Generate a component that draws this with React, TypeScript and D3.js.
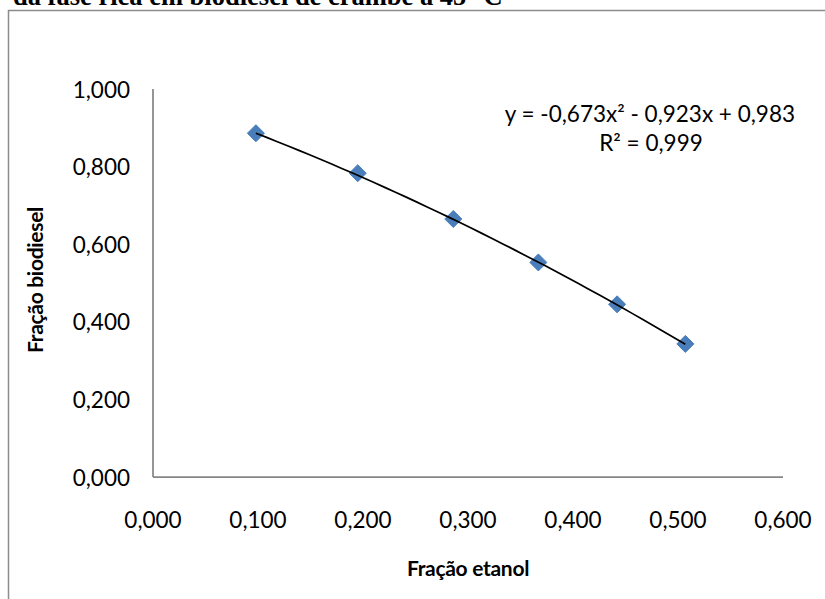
import React from "react";
import * as d3 from "d3";

// Ethanol fraction vs. biodiesel fraction in the biodiesel-rich phase
const etanol = [0.098, 0.195, 0.286, 0.367, 0.442, 0.507];
const biodiesel = [0.886, 0.783, 0.665, 0.553, 0.445, 0.343];

// Quadratic trendline coefficients: y = a·x² + b·x + c
const trendCoef = [-0.673, -0.923, 0.983];
const trendLabel = "y = -0,673x² - 0,923x + 0,983";
const r2Label = "R² = 0,999";

const xTicks = [0, 0.1, 0.2, 0.3, 0.4, 0.5, 0.6];
const yTicks = [0, 0.2, 0.4, 0.6, 0.8, 1.0];

const titleText = "da fase rica em biodiesel de crambe a 45 °C";
const xTitle = "Fração etanol";
const yTitle = "Fração biodiesel";

const W = 825;
const H = 599;
const plot = { left: 153, right: 783, top: 89, bottom: 477 };
const font = "Lato, 'Open Sans', sans-serif";

const fmt = (v: number) => d3.format(".3f")(v).replace(".", ",");

export default function App() {
  const x = d3.scaleLinear().domain([0, 0.6]).range([plot.left, plot.right]);
  const y = d3.scaleLinear().domain([0, 1]).range([plot.bottom, plot.top]);

  const [a, b, c] = trendCoef;
  const x0 = d3.min(etanol)!;
  const x1 = d3.max(etanol)!;
  const trendX = d3.range(0, 41).map((i) => x0 + ((x1 - x0) * i) / 40);
  const line = d3
    .line<number>()
    .x((v) => x(v))
    .y((v) => y(a * v * v + b * v + c));

  const diamond = d3.symbol().type(d3.symbolDiamond2).size(185)();

  return (
    <div style={{ position: "absolute", left: 0, top: 0 }}>
      <svg width={W} height={H} style={{ display: "block", background: "#fff" }}>
        {/* caption fragment above the chart frame */}
        <text
          x={13}
          y={5}
          fontFamily="'Liberation Serif', 'Times New Roman', serif"
          fontWeight="bold"
          fontSize={26.5}
          fill="#000"
        >
          {titleText}
        </text>

        {/* chart frame */}
        <rect x={8.5} y={10.5} width={W + 20} height={H + 20} fill="#fff" stroke="#8c8c8c" strokeWidth={1.5} />

        {/* axes */}
        <line x1={plot.left} x2={plot.left} y1={plot.top} y2={plot.bottom} stroke="#868686" strokeWidth={1.75} />
        <line x1={plot.left} x2={plot.right} y1={plot.bottom} y2={plot.bottom} stroke="#868686" strokeWidth={1.75} />

        {/* y tick labels */}
        {yTicks.map((t) => (
          <text
            key={"y" + t}
            x={130}
            y={y(t)}
            textAnchor="end"
            dominantBaseline="central"
            fontFamily={font}
            fontSize={22.5}
            fill="#000"
          >
            {fmt(t)}
          </text>
        ))}

        {/* x tick labels */}
        {xTicks.map((t) => (
          <text
            key={"x" + t}
            x={x(t)}
            y={519}
            textAnchor="middle"
            dominantBaseline="central"
            fontFamily={font}
            fontSize={22.5}
            fill="#000"
          >
            {fmt(t)}
          </text>
        ))}

        {/* axis titles */}
        <text
          x={468}
          y={567}
          textAnchor="middle"
          dominantBaseline="central"
          fontFamily={font}
          fontWeight="bold"
          fontSize={21}
          letterSpacing={-0.3}
          fill="#000"
        >
          {xTitle}
        </text>
        <text
          transform={`translate(34,280) rotate(-90)`}
          textAnchor="middle"
          dominantBaseline="central"
          fontFamily={font}
          fontWeight="bold"
          fontSize={21}
          letterSpacing={-0.3}
          fill="#000"
        >
          {yTitle}
        </text>

        {/* data markers */}
        {etanol.map((v, i) => (
          <path
            key={"p" + i}
            d={diamond!}
            transform={`translate(${x(v)},${y(biodiesel[i])})`}
            fill="#4a7ebb"
            stroke="#4a7ebb"
            strokeWidth={1}
          />
        ))}

        {/* polynomial trendline */}
        <path d={line(trendX)!} fill="none" stroke="#000" strokeWidth={1.7} />

        {/* trendline equation */}
        <text x={795} y={113} textAnchor="end" dominantBaseline="central" fontFamily={font} fontSize={22.5} fill="#000">
          {trendLabel}
        </text>
        <text x={651} y={142} textAnchor="middle" dominantBaseline="central" fontFamily={font} fontSize={22.5} fill="#000">
          {r2Label}
        </text>
      </svg>
    </div>
  );
}
